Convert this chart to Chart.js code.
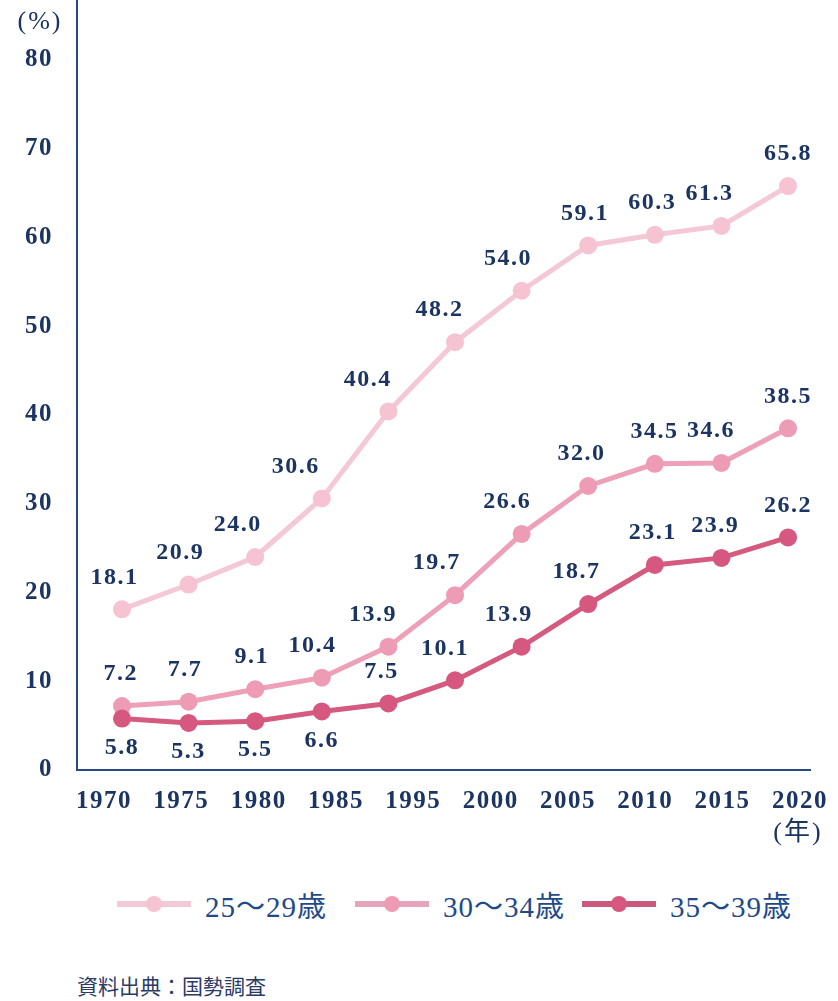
<!DOCTYPE html>
<html lang="ja">
<head>
  <meta charset="UTF-8">
  <title>未婚率の推移</title>
  <script src="https://cdn.jsdelivr.net/npm/chart.js"></script>
  <style>
    body { margin: 0; background: #fff; }
    .wrap { position: relative; width: 838px; height: 1001px; }
    canvas { position: absolute; left: 0; top: 0; }
    .legend { position: absolute; top: 886px; left: 0; width: 838px; height: 36px; }
    .item { position: absolute; top: 0; height: 36px; display: flex; align-items: center; }
    .item .mark { position: relative; width: 74px; height: 6px; margin-right: 14px; }
    .item .dot { position: absolute; left: 29px; top: -5px; width: 16px; height: 16px; border-radius: 50%; }
    .item span { font-family: "Liberation Serif", "Noto Sans CJK JP", serif; font-size: 29px; color: #1f4a8a; letter-spacing: 1px; }
    .source { position: absolute; left: 77px; top: 970px; font-family: "Noto Sans CJK JP", sans-serif; font-size: 21px; color: #2b3b66; }
  </style>
</head>
<body>
<div class="wrap">
  <canvas id="chart" width="838" height="860"></canvas>
  <div class="legend" id="legend"></div>
  <div class="source">資料出典：国勢調査</div>
</div>
<script>
  // 国勢調査の年（データ点）と、軸に表示されている年ラベル
  const censusYears = ['1970', '1975', '1980', '1985', '1990', '1995', '2000', '2005', '2010', '2015', '2020'];
  const tickYears = ['1970', '1975', '1980', '1985', '1995', '2000', '2005', '2010', '2015', '2020'];
  const yTicks = [0, 10, 20, 30, 40, 50, 60, 70, 80];

  const seriesNames = ['25〜29歳', '30〜34歳', '35〜39歳'];
  const age25to29 = [18.1, 20.9, 24.0, 30.6, 40.4, 48.2, 54.0, 59.1, 60.3, 61.3, 65.8];
  const age30to34 = [7.2, 7.7, 9.1, 10.4, 13.9, 19.7, 26.6, 32.0, 34.5, 34.6, 38.5];
  const age35to39 = [5.8, 5.3, 5.5, 6.6, 7.5, 10.1, 13.9, 18.7, 23.1, 23.9, 26.2];

  const NAVY = '#1b3462';
  const AXIS = '#274a86';
  const SERIF = '"Liberation Serif", "Noto Sans CJK JP", serif';

  const styles = [
    { line: '#f4c8d6', point: '#f6c3d3', legendLine: '#f2c9d6', order: 3, below: [] },
    { line: '#eea0b8', point: '#ee9bb5', legendLine: '#e4a4b9', order: 2, below: [] },
    { line: '#d55a80', point: '#d6577f', legendLine: '#c95a7d', order: 1, below: [0, 1, 2, 3] }
  ];

  function toPoints(arr) {
    return arr.map((v, i) => ({ x: i, y: v }));
  }

  const datasets = [age25to29, age30to34, age35to39].map((arr, k) => ({
    label: seriesNames[k],
    data: toPoints(arr),
    borderColor: styles[k].line,
    backgroundColor: styles[k].point,
    pointBackgroundColor: styles[k].point,
    pointBorderWidth: 0,
    pointRadius: 9,
    pointHoverRadius: 9,
    borderWidth: 5,
    tension: 0,
    clip: false,
    order: styles[k].order,
    xAxisID: 'x',
    yAxisID: 'y'
  }));

  // 数値ラベルと単位表示
  const labelPlugin = {
    id: 'valueLabels',
    beforeDraw(chart) {
      chart.ctx.letterSpacing = '1.5px';
    },
    afterDatasetsDraw(chart) {
      const ctx = chart.ctx;
      ctx.save();
      ctx.letterSpacing = '1.5px';
      ctx.font = 'bold 24px ' + SERIF;
      ctx.fillStyle = NAVY;
      ctx.textAlign = 'center';
      ctx.textBaseline = 'middle';
      chart.data.datasets.forEach((ds, k) => {
        const pts = chart.getDatasetMeta(k).data;
        pts.forEach((p, i) => {
          const v = ds.data[i].y;
          let x = p.x, y;
          if (styles[k].below.includes(i)) {
            y = p.y + 29;
          } else {
            y = p.y - 32;
            const next = pts[i + 1];
            if (next) x -= Math.min(26, Math.max(0, (p.y - next.y) * 0.3));
          }
          ctx.fillText(v.toFixed(1), x, y);
        });
      });
      ctx.font = '26px ' + SERIF;
      ctx.letterSpacing = '2px';
      ctx.fillText('(%)', 40, 22);
      ctx.fillText('(年)', 798, 833);
      ctx.restore();
    }
  };

  new Chart(document.getElementById('chart'), {
    type: 'line',
    data: { datasets },
    options: {
      responsive: false,
      animation: false,
      devicePixelRatio: 1,
      layout: { autoPadding: false, padding: { left: 0, right: 28, top: 0, bottom: 0 } },
      plugins: { legend: { display: false }, tooltip: { enabled: false } },
      scales: {
        x: {
          type: 'linear',
          display: false,
          min: -0.6757,
          max: 10.33
        },
        years: {
          type: 'linear',
          position: 'bottom',
          min: -0.349,
          max: 9.13,
          grid: { display: false, drawTicks: false },
          border: { display: true, color: AXIS, width: 2 },
          afterBuildTicks(scale) {
            scale.ticks = tickYears.map((_, i) => ({ value: i }));
          },
          afterFit(scale) {
            scale.height = 90;
            scale.paddingLeft = 0;
            scale.paddingRight = 0;
          },
          ticks: {
            autoSkip: false,
            maxRotation: 0,
            padding: 17,
            color: NAVY,
            font: { family: SERIF, size: 25, weight: 'bold' },
            callback: (v) => tickYears[v]
          }
        },
        y: {
          type: 'linear',
          min: 0,
          max: 86.76,
          grid: { display: false, drawTicks: false },
          border: { display: true, color: AXIS, width: 2 },
          afterBuildTicks(scale) {
            scale.ticks = yTicks.map(v => ({ value: v }));
          },
          afterFit(scale) {
            scale.width = 77;
            scale.paddingTop = 0;
            scale.paddingBottom = 0;
          },
          ticks: {
            padding: 24,
            color: NAVY,
            font: { family: SERIF, size: 25, weight: 'bold' }
          }
        }
      }
    },
    plugins: [labelPlugin]
  });

  // 凡例
  const legend = document.getElementById('legend');
  const legendLeft = [117, 355, 582];
  seriesNames.forEach((name, k) => {
    const item = document.createElement('div');
    item.className = 'item';
    item.style.left = legendLeft[k] + 'px';
    item.innerHTML = '<div class="mark" style="background:' + styles[k].legendLine + '">' +
      '<div class="dot" style="background:' + styles[k].point + '"></div></div><span>' + name + '</span>';
    legend.appendChild(item);
  });
</script>
</body>
</html>
